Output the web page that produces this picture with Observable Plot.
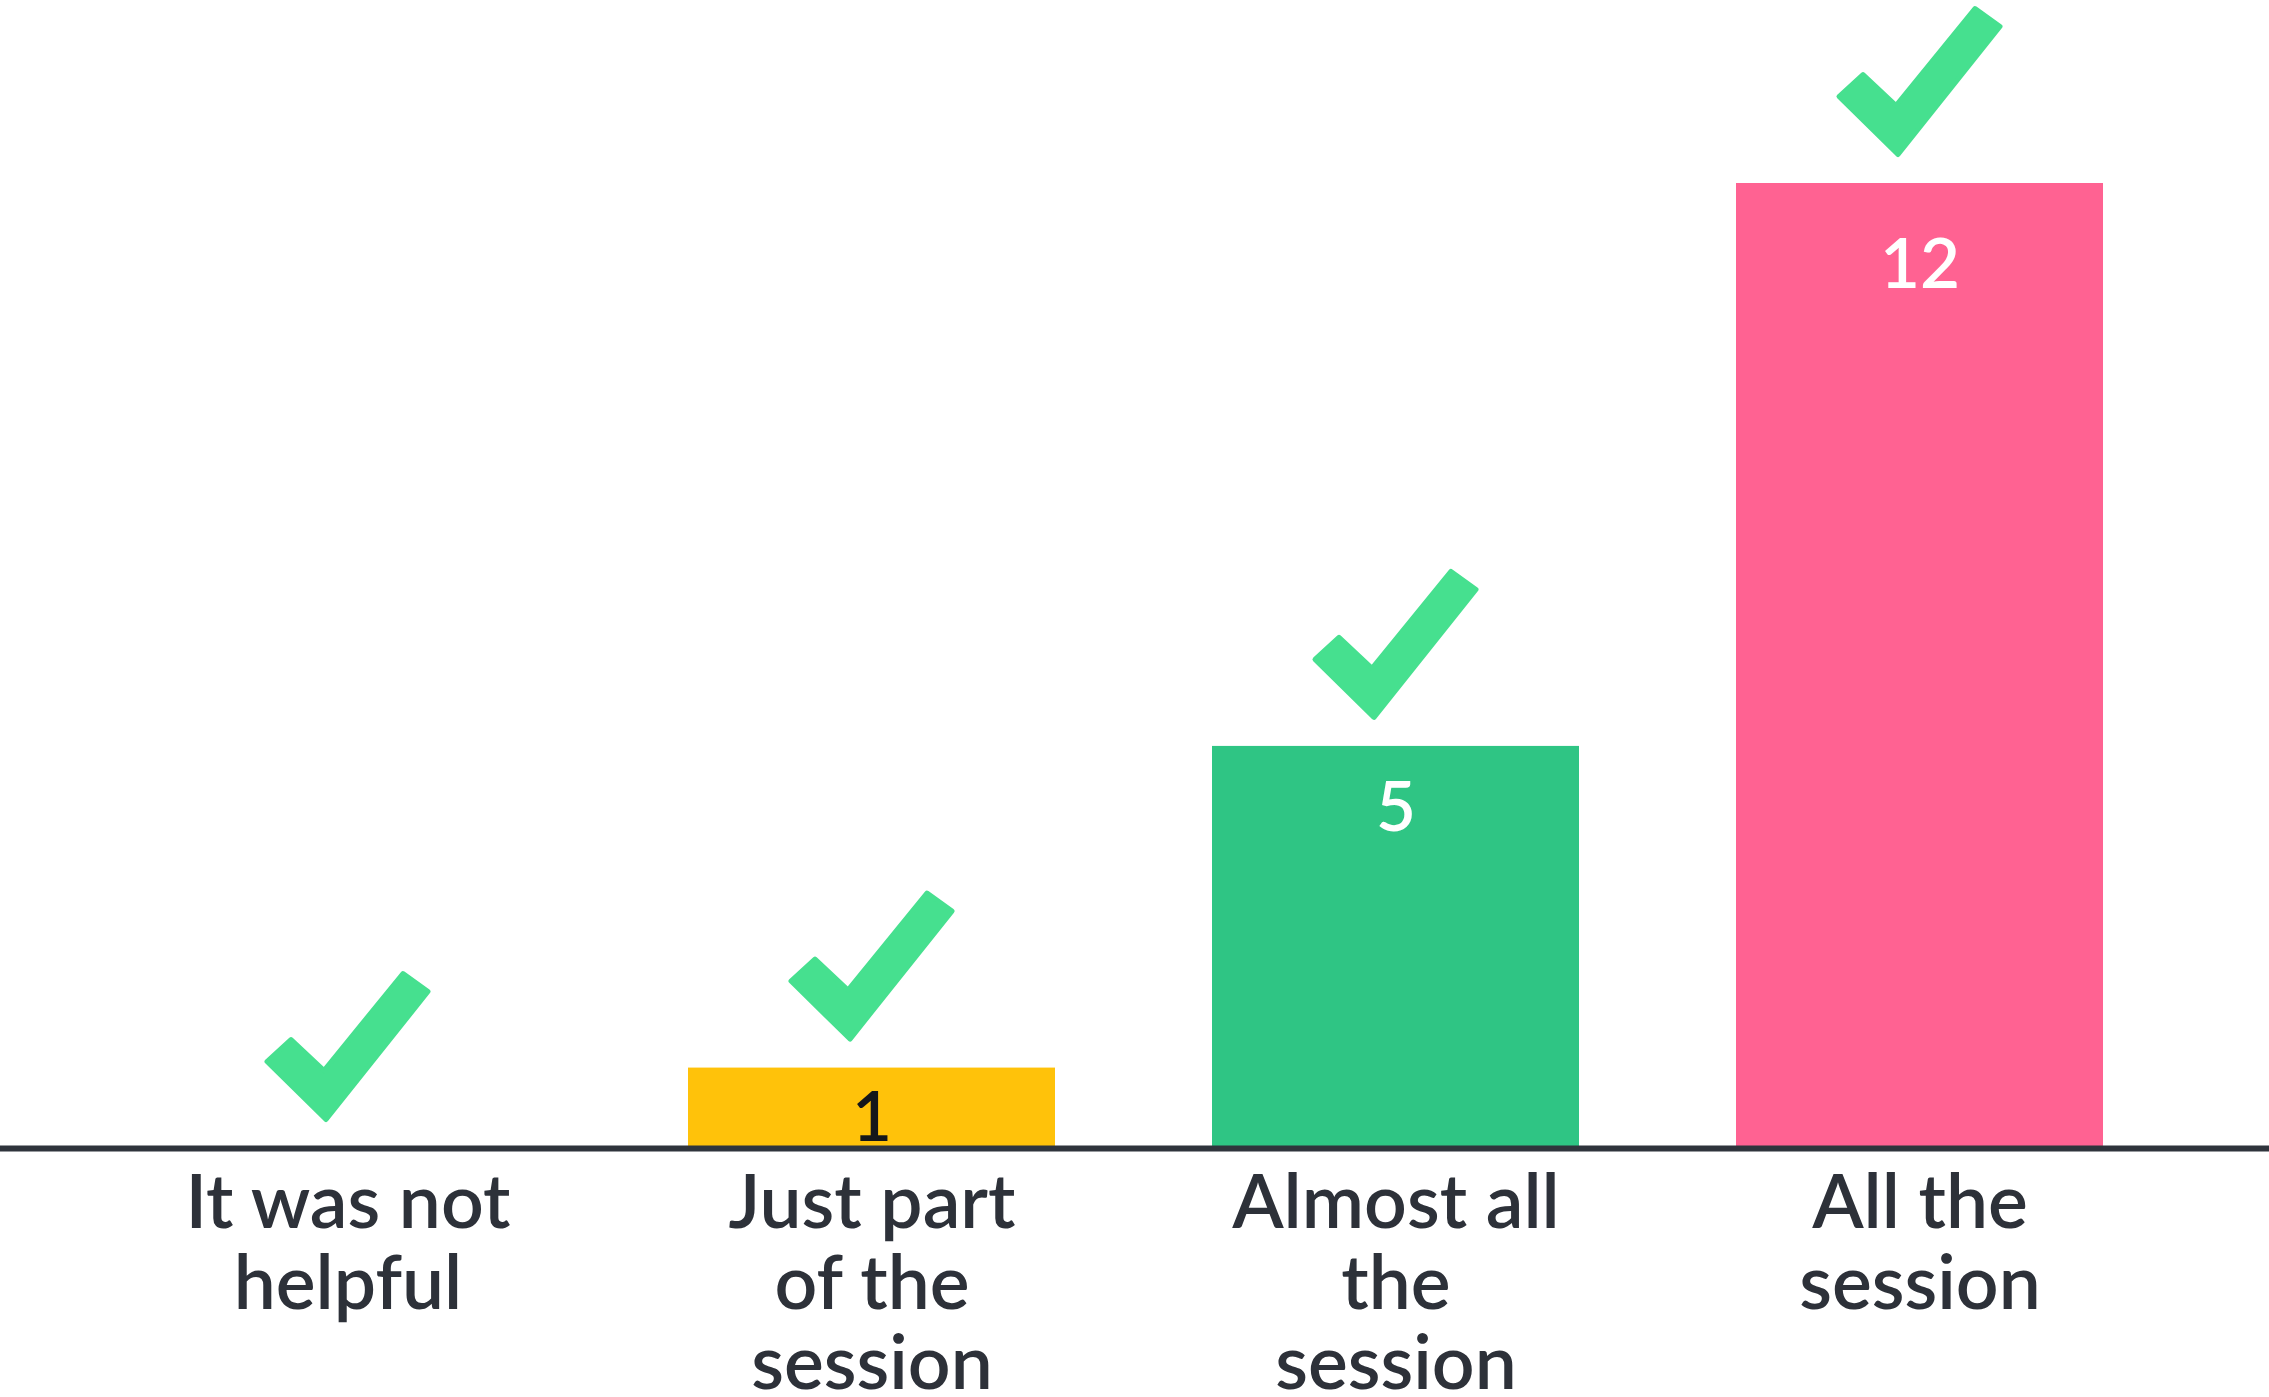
<!DOCTYPE html>
<html>
<head>
<meta charset="utf-8">
<script src="https://cdn.jsdelivr.net/npm/d3@7"></script>
<script src="https://cdn.jsdelivr.net/npm/@observablehq/plot@0.6"></script>
<style>
  html, body { margin: 0; padding: 0; background: #ffffff; overflow: hidden; }
  #chart svg { display: block; }
</style>
</head>
<body>
<div id="chart"></div>
<script>
// ---- data ----
const categories = ["It was not helpful", "Just part of the session", "Almost all the session", "All the session"];
const values = [0, 1, 5, 12];
const tickLabels = ["It was not\nhelpful", "Just part\nof the\nsession", "Almost all\nthe\nsession", "All the\nsession"];
const barColors = ["#4f8bf5", "#ffc20a", "#2fc584", "#ff6292"];
const valueLabelColors = ["#ffffff", "#14161a", "#ffffff", "#ffffff"];

const data = categories.map((c, i) => ({
  category: c,
  value: values[i],
  label: tickLabels[i],
  color: barColors[i],
  textColor: valueLabelColors[i]
}));

// checkmark glyph as a custom symbol (anchored at the top of each bar)
const checkmark = {
  draw(ctx) {
    ctx.moveTo(-81, -87);
    ctx.lineTo(-57, -109);
    ctx.lineTo(-24, -78);
    ctx.lineTo(55, -175);
    ctx.lineTo(80, -157);
    ctx.lineTo(-22, -29);
    ctx.closePath();
  }
};

const font = "Lato, 'Open Sans', sans-serif";

const chart = Plot.plot({
  width: 2269,
  height: 1397,
  marginLeft: 5,
  marginRight: 7,
  marginTop: 183,
  marginBottom: 249,
  style: { fontFamily: font, background: "#ffffff" },
  x: { domain: categories, padding: 0.3, axis: null },
  y: { domain: [0, 12], axis: null },
  color: { type: "identity" },
  marks: [
    Plot.barY(data, { x: "category", y: "value", fill: "color" }),
    Plot.ruleY([0], { stroke: "#2f343c", strokeWidth: 6, insetLeft: -5, insetRight: -7 }),
    Plot.dot(data, {
      x: "category", y: "value", symbol: checkmark, r: 1,
      fill: "#46e08f", stroke: "#46e08f", strokeWidth: 5, strokeLinejoin: "round"
    }),
    Plot.text(data.filter(d => d.value > 0), {
      x: "category",
      y: d => d.value * 0.965 - 0.6,
      text: d => String(d.value),
      fill: "textColor",
      fontSize: 69,
      fontWeight: 600
    }),
    Plot.text(data, {
      x: "category",
      text: "label",
      frameAnchor: "bottom",
      lineAnchor: "top",
      dy: 23,
      fontSize: 75,
      lineHeight: 1.07,
      fontWeight: 600,
      fill: "#2d3139"
    })
  ]
});

document.getElementById("chart").appendChild(chart);
</script>
</body>
</html>
